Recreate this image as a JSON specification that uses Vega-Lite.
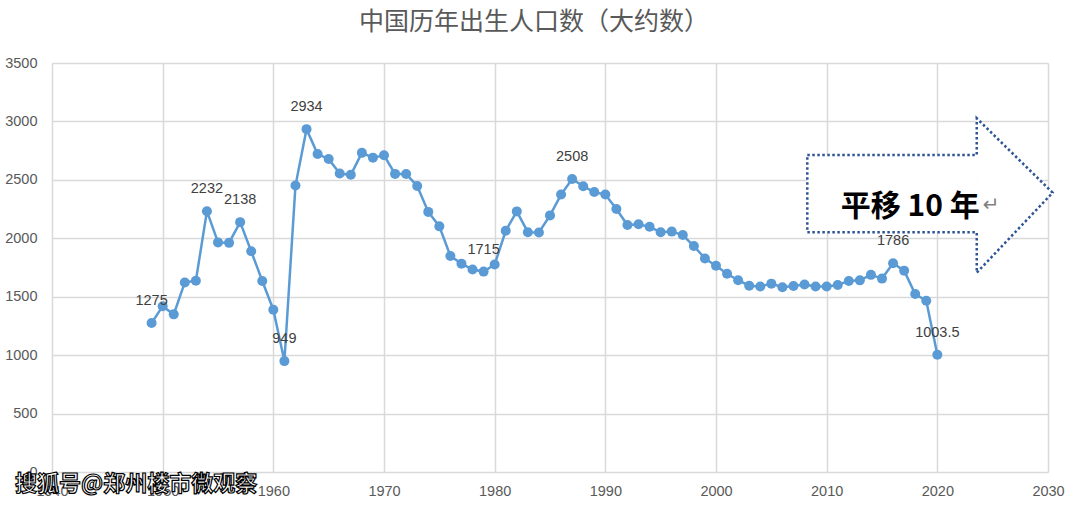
{
  "$schema": "https://vega.github.io/schema/vega-lite/v6.json",
  "autosize": {"type": "none"},
  "padding": {"left": 52, "top": 63, "right": 32, "bottom": 37},
  "width": 996,
  "height": 409,
  "background": "white",
  "title": {
    "text": "中国历年出生人口数（大约数）",
    "font": "Noto Sans CJK SC",
    "fontSize": 25,
    "fontWeight": "normal",
    "color": "#595959",
    "anchor": "middle",
    "offset": 20,
    "dx": -16
  },
  "datasets": {
    "births": [
      {"year": 1949, "births": 1275}, {"year": 1950, "births": 1419}, {"year": 1951, "births": 1349},
      {"year": 1952, "births": 1622}, {"year": 1953, "births": 1637}, {"year": 1954, "births": 2232},
      {"year": 1955, "births": 1965}, {"year": 1956, "births": 1961}, {"year": 1957, "births": 2138},
      {"year": 1958, "births": 1889}, {"year": 1959, "births": 1635}, {"year": 1960, "births": 1389},
      {"year": 1961, "births": 949}, {"year": 1962, "births": 2451}, {"year": 1963, "births": 2934},
      {"year": 1964, "births": 2721}, {"year": 1965, "births": 2679}, {"year": 1966, "births": 2554},
      {"year": 1967, "births": 2543}, {"year": 1968, "births": 2731}, {"year": 1969, "births": 2690},
      {"year": 1970, "births": 2710}, {"year": 1971, "births": 2551}, {"year": 1972, "births": 2550},
      {"year": 1973, "births": 2447}, {"year": 1974, "births": 2226}, {"year": 1975, "births": 2102},
      {"year": 1976, "births": 1849}, {"year": 1977, "births": 1783}, {"year": 1978, "births": 1733},
      {"year": 1979, "births": 1715}, {"year": 1980, "births": 1776}, {"year": 1981, "births": 2064},
      {"year": 1982, "births": 2230}, {"year": 1983, "births": 2052}, {"year": 1984, "births": 2050},
      {"year": 1985, "births": 2196}, {"year": 1986, "births": 2374}, {"year": 1987, "births": 2508},
      {"year": 1988, "births": 2445}, {"year": 1989, "births": 2396}, {"year": 1990, "births": 2374},
      {"year": 1991, "births": 2250}, {"year": 1992, "births": 2113}, {"year": 1993, "births": 2120},
      {"year": 1994, "births": 2098}, {"year": 1995, "births": 2052}, {"year": 1996, "births": 2057},
      {"year": 1997, "births": 2028}, {"year": 1998, "births": 1934}, {"year": 1999, "births": 1827},
      {"year": 2000, "births": 1765}, {"year": 2001, "births": 1696}, {"year": 2002, "births": 1641},
      {"year": 2003, "births": 1594}, {"year": 2004, "births": 1588}, {"year": 2005, "births": 1612},
      {"year": 2006, "births": 1581}, {"year": 2007, "births": 1591}, {"year": 2008, "births": 1604},
      {"year": 2009, "births": 1587}, {"year": 2010, "births": 1588}, {"year": 2011, "births": 1600},
      {"year": 2012, "births": 1635}, {"year": 2013, "births": 1640}, {"year": 2014, "births": 1687},
      {"year": 2015, "births": 1655}, {"year": 2016, "births": 1786}, {"year": 2017, "births": 1723},
      {"year": 2018, "births": 1523}, {"year": 2019, "births": 1465}, {"year": 2020, "births": 1003.5}
    ],
    "arrowBody": [
      {"year": 2008.25, "year2": 2023.56, "births": 2051.2, "births2": 2712.6}
    ],
    "arrowHead": [
      {"year": 2023.56, "births": 3026.7, "births2": 1705.5},
      {"year": 2030.42, "births": 2390, "births2": 2390}
    ],
    "arrowOutline": [
      {"i": 1, "year": 2008.25, "births": 2712.6},
      {"i": 2, "year": 2023.56, "births": 2712.6},
      {"i": 3, "year": 2023.56, "births": 3026.7},
      {"i": 4, "year": 2030.42, "births": 2390},
      {"i": 5, "year": 2023.56, "births": 1705.5},
      {"i": 6, "year": 2023.56, "births": 2051.2},
      {"i": 7, "year": 2008.25, "births": 2051.2},
      {"i": 8, "year": 2008.25, "births": 2712.6}
    ],
    "arrowText": [
      {"year": 2017.55, "births": 2270, "text": "平移 10 年"}
    ],
    "returnMark": [
      {"year": 2024.85, "births": 2285, "text": "↵"}
    ],
    "watermark": [
      {"year": 1936.66, "births": -102, "text": "搜狐号@郑州楼市微观察"}
    ]
  },
  "encoding": {
    "x": {
      "field": "year",
      "type": "quantitative",
      "scale": {"domain": [1940, 2030], "nice": false, "zero": false},
      "axis": {
        "title": null,
        "values": [1940, 1950, 1960, 1970, 1980, 1990, 2000, 2010, 2020, 2030],
        "format": "d",
        "grid": true,
        "gridColor": "#d9d9d9",
        "gridWidth": 1.5,
        "domain": false,
        "ticks": false,
        "labelFont": "Liberation Sans",
        "labelFontSize": 14.5,
        "labelColor": "#595959",
        "labelPadding": 12,
        "labelFlush": false
      }
    },
    "y": {
      "field": "births",
      "type": "quantitative",
      "scale": {"domain": [0, 3500], "nice": false},
      "axis": {
        "title": null,
        "values": [0, 500, 1000, 1500, 2000, 2500, 3000, 3500],
        "format": "d",
        "grid": true,
        "gridColor": "#d9d9d9",
        "gridWidth": 1.5,
        "domain": false,
        "ticks": false,
        "labelFont": "Liberation Sans",
        "labelFontSize": 14.5,
        "labelColor": "#595959",
        "labelPadding": 15
      }
    }
  },
  "layer": [
    {
      "data": {"name": "births"},
      "mark": {
        "type": "line",
        "color": "#5B9BD5",
        "strokeWidth": 2.5,
        "point": {"filled": true, "size": 100, "color": "#5B9BD5", "opacity": 1}
      }
    },
    {
      "data": {"name": "births"},
      "transform": [{"filter": {"field": "year", "oneOf": [1949, 1954, 1957, 1961, 1963, 1979, 1987, 2016, 2020]}}],
      "mark": {"type": "text", "dy": -22, "font": "Liberation Sans", "fontSize": 14.5, "color": "#404040"},
      "encoding": {
        "text": {"field": "births", "type": "quantitative"}
      }
    },
    {
      "data": {"name": "arrowBody"},
      "mark": {"type": "rect", "color": "white", "opacity": 1},
      "encoding": {
        "x2": {"field": "year2"},
        "y2": {"field": "births2"}
      }
    },
    {
      "data": {"name": "arrowHead"},
      "mark": {"type": "area", "color": "white", "opacity": 1, "orient": "vertical"},
      "encoding": {
        "y2": {"field": "births2"}
      }
    },
    {
      "data": {"name": "arrowOutline"},
      "mark": {"type": "line", "color": "#2F5597", "strokeWidth": 2.5, "strokeDash": [2.5, 2.5], "strokeCap": "butt"},
      "encoding": {
        "order": {"field": "i", "type": "quantitative"}
      }
    },
    {
      "data": {"name": "arrowText"},
      "mark": {"type": "text", "font": "Noto Sans CJK SC", "fontSize": 30, "fontWeight": "bold", "color": "#000000", "align": "center", "baseline": "middle"},
      "encoding": {
        "text": {"field": "text"}
      }
    },
    {
      "data": {"name": "returnMark"},
      "mark": {"type": "text", "font": "DejaVu Sans", "fontSize": 20, "color": "#808080", "align": "center", "baseline": "middle"},
      "encoding": {
        "text": {"field": "text"}
      }
    },
    {
      "data": {"name": "watermark"},
      "mark": {"type": "text", "font": "Noto Sans CJK SC", "fontSize": 22, "fontWeight": "bold", "fill": "white", "stroke": "black", "strokeWidth": 1.2, "align": "left", "baseline": "middle"},
      "encoding": {
        "text": {"field": "text"}
      }
    }
  ],
  "config": {
    "view": {"stroke": null}
  }
}
